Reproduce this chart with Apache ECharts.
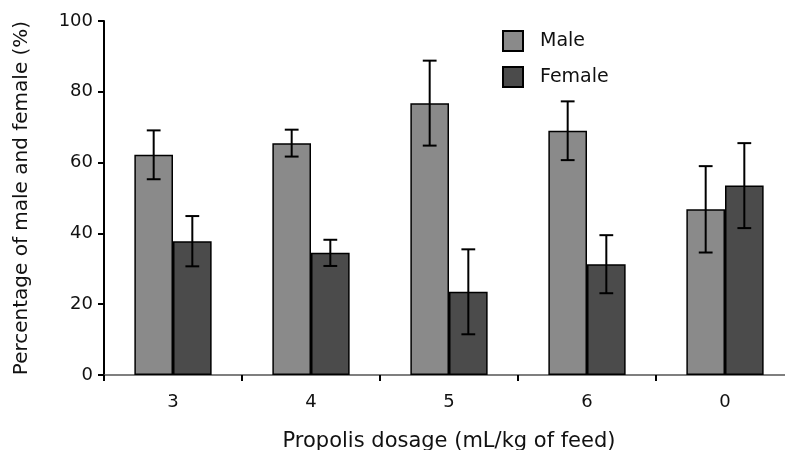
<!DOCTYPE html>
<html>
<head>
<meta charset="utf-8">
<script src="https://cdn.jsdelivr.net/npm/echarts@6/dist/echarts.min.js"></script>
<style>
  html, body { margin: 0; padding: 0; background: #fff; }
  #chart { width: 785px; height: 450px; }
</style>
</head>
<body>
<div id="chart"></div>
<script>
// data
var dosages = ['3', '4', '5', '6', '0'];
var maleMean = [62.2, 65.5, 76.8, 69.0, 46.8];
var maleErr = [6.9, 3.8, 12.0, 8.3, 12.2];
var femaleMean = [37.8, 34.5, 23.5, 31.3, 53.5];
var femaleErr = [7.1, 3.7, 12.0, 8.2, 12.0];
var yTicks = [0, 20, 40, 60, 80, 100];

var FONT = 'DejaVu Sans';

function errData(mean, err) {
  return mean.map(function (m, i) { return [i, m - err[i], m + err[i]]; });
}

// draws an error bar shifted left/right to sit on its bar
function errorBar(side) {
  return function (params, api) {
    var i = api.value(0);
    var lo = api.coord([i, api.value(1)]);
    var hi = api.coord([i, api.value(2)]);
    var band = api.size([1, 0])[0];
    var x = lo[0] + side * band * 0.14;
    var cap = band * 0.05;
    var st = { stroke: '#000', lineWidth: 2 };
    return {
      type: 'group',
      children: [
        { type: 'line', shape: { x1: x, y1: hi[1], x2: x, y2: lo[1] }, style: st },
        { type: 'line', shape: { x1: x - cap, y1: hi[1], x2: x + cap, y2: hi[1] }, style: st },
        { type: 'line', shape: { x1: x - cap, y1: lo[1], x2: x + cap, y2: lo[1] }, style: st }
      ]
    };
  };
}

var myChart = echarts.init(document.getElementById('chart'));
var option = {
  animation: false,
  backgroundColor: '#fff',
  textStyle: { fontFamily: FONT },
  grid: { left: 104, width: 690, top: 21, bottom: 75, outerBoundsMode: 'none', containLabel: false },
  legend: {
    orient: 'vertical',
    left: 497,
    top: 25,
    icon: 'rect',
    itemWidth: 20,
    itemHeight: 20,
    itemGap: 14,
    data: ['Male', 'Female'],
    itemStyle: { borderColor: '#000', borderWidth: 2 },
    textStyle: { fontFamily: FONT, fontSize: 19, color: '#111', padding: [0, 0, 0, 12] }
  },
  xAxis: {
    type: 'category',
    data: dosages,
    name: 'Propolis dosage (mL/kg of feed)',
    nameLocation: 'middle',
    nameGap: 56,
    nameTextStyle: { fontFamily: FONT, fontSize: 21, color: '#111' },
    axisLine: { lineStyle: { color: '#555', width: 1.5 } },
    axisTick: { show: true, length: 6, lineStyle: { color: '#000', width: 2 } },
    axisLabel: { fontFamily: FONT, fontSize: 18, color: '#111', margin: 18 }
  },
  yAxis: {
    type: 'value',
    min: 0,
    max: 100,
    interval: 20,
    name: 'Percentage of male and female (%)',
    nameLocation: 'middle',
    nameGap: 72,
    nameTextStyle: { fontFamily: FONT, fontSize: 20, color: '#111' },
    axisLine: { show: true, lineStyle: { color: '#000', width: 2 } },
    axisTick: { show: true, length: 6, lineStyle: { color: '#000', width: 2 } },
    axisLabel: {
      fontFamily: FONT, fontSize: 18, color: '#111', margin: 11,
      formatter: function (v) { return yTicks.indexOf(v) >= 0 ? String(v) : ''; }
    },
    splitLine: { show: false }
  },
  series: [
    {
      name: 'Male',
      type: 'bar',
      data: maleMean,
      barWidth: '28%',
      barGap: '0%',
      itemStyle: { color: '#8a8a8a', borderColor: '#000', borderWidth: 1.5 }
    },
    {
      name: 'Female',
      type: 'bar',
      data: femaleMean,
      barWidth: '28%',
      barGap: '0%',
      itemStyle: { color: '#4b4b4b', borderColor: '#000', borderWidth: 1.5 }
    },
    {
      type: 'custom',
      renderItem: errorBar(-1),
      data: errData(maleMean, maleErr),
      z: 10,
      silent: true
    },
    {
      type: 'custom',
      renderItem: errorBar(1),
      data: errData(femaleMean, femaleErr),
      z: 10,
      silent: true
    }
  ]
};
myChart.setOption(option, true);
window.addEventListener('resize', function () {
  myChart.resize();
});
</script>
</body>
</html>
